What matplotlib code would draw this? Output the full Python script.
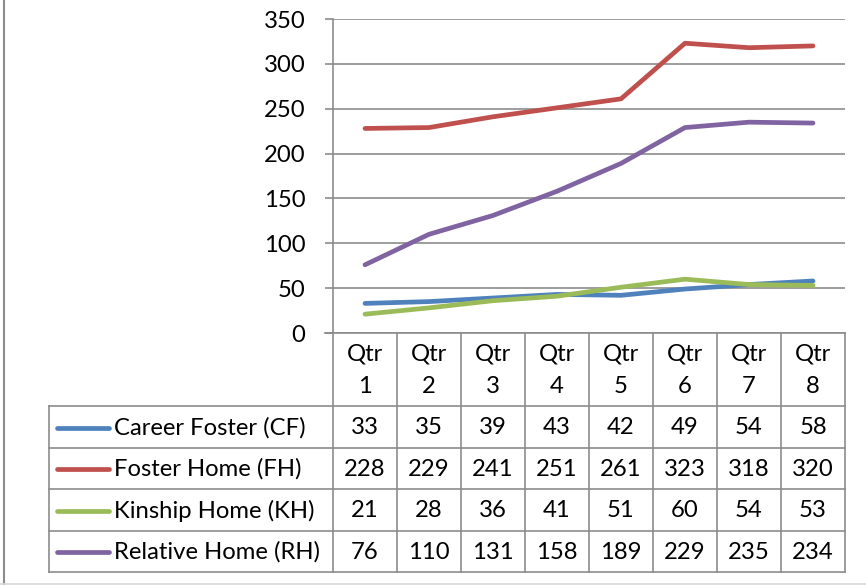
import matplotlib.pyplot as plt
from matplotlib.lines import Line2D
from matplotlib.transforms import blended_transform_factory

plt.rcParams['font.family'] = ['Lato', 'DejaVu Sans']

quarters = ['Qtr\n1', 'Qtr\n2', 'Qtr\n3', 'Qtr\n4', 'Qtr\n5', 'Qtr\n6', 'Qtr\n7', 'Qtr\n8']
series_names = ['Career Foster (CF)', 'Foster Home (FH)', 'Kinship Home (KH)', 'Relative Home (RH)']
career_foster = [33, 35, 39, 43, 42, 49, 54, 58]
foster_home = [228, 229, 241, 251, 261, 323, 318, 320]
kinship_home = [21, 28, 36, 41, 51, 60, 54, 53]
relative_home = [76, 110, 131, 158, 189, 229, 235, 234]
colors = ['#4F81BD', '#C0504D', '#9BBB59', '#8064A2']

W, H = 866, 585
fig = plt.figure(figsize=(W / 100, H / 100), dpi=100)

# plot area in pixels
left, right, top, bottom = 333, 845, 19, 333
ax = fig.add_axes([left / W, 1 - bottom / H, (right - left) / W, (bottom - top) / H])

def fx(px):
    return px / W

def fy(py):
    return 1 - py / H

all_series = [career_foster, foster_home, kinship_home, relative_home]
x = list(range(len(quarters)))
for vals, c in zip(all_series, colors):
    ax.plot(x, vals, color=c, lw=3.4, solid_capstyle='round', solid_joinstyle='round', zorder=3)

ax.set_xlim(-0.5, len(quarters) - 0.5)
ax.set_ylim(0, 350)
ax.set_yticks(range(0, 351, 50))
ax.set_xticks([])
ax.grid(axis='y', color='#8c8c8c', lw=1.2)
ax.set_axisbelow(True)
for s in ['top', 'right', 'bottom']:
    ax.spines[s].set_visible(False)
ax.spines['left'].set_color('#8c8c8c')
ax.spines['left'].set_linewidth(1.2)
fs = 17.2
ax.tick_params(axis='y', length=6, width=1.2, color='#8c8c8c', labelsize=fs, pad=14)

# data table under the plot
grey = '#8c8c8c'
tr = blended_transform_factory(ax.transData, fig.transFigure)
row_edges = [406, 447.5, 489, 530.5, 572]
table_left = 49

# x-axis / header top line
fig.add_artist(Line2D([fx(325), fx(right)], [fy(bottom), fy(bottom)], color=grey, lw=1.2))
# column boundaries through header and rows
for i in range(len(quarters) + 1):
    xb = i - 0.5
    fig.add_artist(Line2D([xb, xb], [fy(bottom), fy(row_edges[-1])], color=grey, lw=1.2,
                          transform=tr))
# horizontal row lines
for ry in row_edges:
    fig.add_artist(Line2D([fx(table_left), fx(right)], [fy(ry), fy(ry)], color=grey, lw=1.2))
fig.add_artist(Line2D([fx(table_left), fx(table_left)], [fy(row_edges[0]), fy(row_edges[-1])],
                      color=grey, lw=1.2))

# header labels
for i, q in enumerate(quarters):
    fig.text(i, fy((bottom + row_edges[0]) / 2 + 1), q, transform=tr, ha='center', va='center',
             fontsize=fs, linespacing=1.65)

# series rows: legend key, name, values
for r, (name, vals, c) in enumerate(zip(series_names, all_series, colors)):
    cy = fy((row_edges[r] + row_edges[r + 1]) / 2 + 1)
    fig.add_artist(Line2D([fx(57), fx(109)], [cy, cy], color=c, lw=3.4, solid_capstyle='round'))
    fig.text(fx(114), cy, name, ha='left', va='center', fontsize=fs)
    for i, v in enumerate(vals):
        fig.text(i, cy, str(v), transform=tr, ha='center', va='center', fontsize=fs)

# chart frame edges
fig.add_artist(Line2D([fx(3.5), fx(3.5)], [0, 1], color='#8c8c8c', lw=1.5))
fig.add_artist(Line2D([0, 1], [fy(583.5), fy(583.5)], color='#d9d9d9', lw=1.2))

fig.savefig('out.png', dpi=100)
